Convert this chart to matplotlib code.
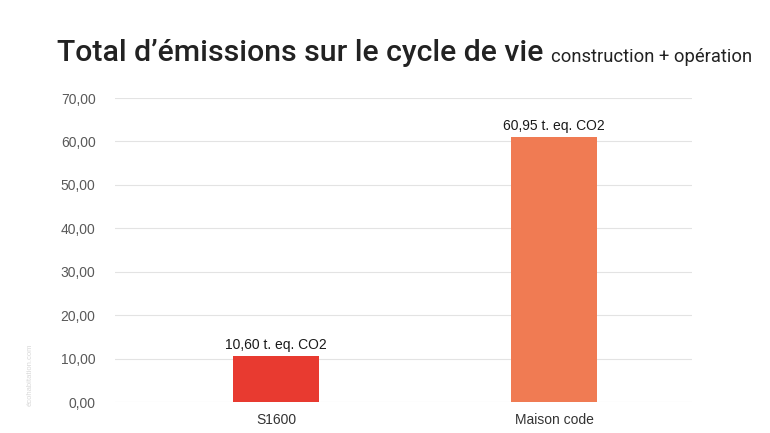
import matplotlib
matplotlib.use("Agg")
import matplotlib.pyplot as plt
from matplotlib.ticker import FuncFormatter

categories = ["S1600", "Maison code"]
values = [10.60, 60.95]
bar_labels = ["10,60 t. eq. CO2", "60,95 t. eq. CO2"]
colors = ["#E83A30", "#F07B53"]

plt.rcParams['font.family'] = ['Liberation Sans', 'DejaVu Sans']

fig = plt.figure(figsize=(7.7, 4.33), dpi=100)
ax = fig.add_axes([115 / 770, (433 - 402) / 433, (692 - 115) / 770, (402 - 98) / 433])

x = list(range(len(categories)))
ax.bar(x, values, width=0.31, color=colors, zorder=3)
for xi, v, lab in zip(x, values, bar_labels):
    ax.text(xi, v + 1.0, lab, ha="center", va="bottom", fontsize=10,
            color="#1a1a1a")

ax.set_ylim(0, 70)
ax.set_xlim(-0.58, 1.495)
ax.set_yticks(range(0, 71, 10))
ax.yaxis.set_major_formatter(FuncFormatter(lambda v, p: f"{v:.2f}".replace(".", ",")))
ax.set_xticks(x)
ax.set_xticklabels(categories)
ax.grid(axis="y", color="#e3e3e3", linewidth=0.8, zorder=0)
for s in ax.spines.values():
    s.set_visible(False)
ax.tick_params(axis="both", length=0, colors="#595959", labelsize=10)
ax.tick_params(axis="x", pad=8, labelcolor="#333333")
ax.tick_params(axis="y", pad=14)

# title in two parts, sized to fit the widths seen in the reference
title = fig.text(57 / 770, 1 - 53 / 433, "Total d\u2019émissions sur le cycle de vie",
                 fontsize=25, color="#222222", va="center", ha="left",
                 family=["Roboto", "DejaVu Sans"], weight="medium")
sub = fig.text(551 / 770, 1 - 57 / 433, "construction + opération",
               fontsize=14, color="#222222", va="center", ha="left",
               family=["Roboto", "DejaVu Sans"])
r = fig.canvas.get_renderer()
for t, target in [(title, 486), (sub, 201)]:
    w = t.get_window_extent(r).width
    t.set_fontsize(t.get_fontsize() * target / w)

fig.text(30 / 770, 1 - 375 / 433, "écohabitation.com", rotation=90, fontsize=5.5,
         color="#d8d8d8", ha="center", va="center")

fig.savefig("out.png", dpi=100)
